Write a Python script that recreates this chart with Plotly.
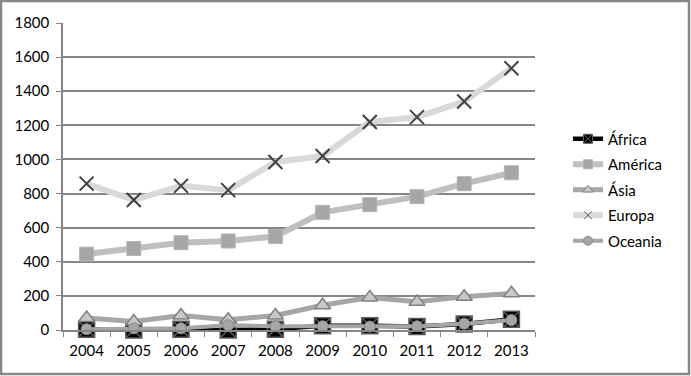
import plotly.graph_objects as go

years = ["2004", "2005", "2006", "2007", "2008", "2009", "2010", "2011", "2012", "2013"]
africa = [5, 0, 5, 0, 5, 25, 25, 20, 35, 63]
america = [445, 478, 512, 522, 548, 690, 735, 782, 858, 922]
asia = [70, 50, 85, 60, 85, 145, 190, 165, 195, 215]
europa = [858, 762, 845, 820, 985, 1020, 1220, 1248, 1340, 1535]
oceania = [5, 10, 10, 28, 22, 22, 20, 22, 37, 58]

W, H = 691, 376
L, R, T, B = 63, 535, 23, 330

styles = [
    ("África", africa,
     dict(color="#000000", width=4.5),
     dict(symbol="square-x", size=16, color="#000000", line=dict(color="#5a5a5a", width=1.5)),
     dict(symbol="square-x", size=9, color="#000000", line=dict(color="#5a5a5a", width=1))),
    ("América", america,
     dict(color="#bfbfbf", width=6),
     dict(symbol="square", size=14, color="#a6a6a6", line=dict(color="#b5b5b5", width=1)),
     dict(symbol="square", size=9, color="#a6a6a6", line=dict(color="#b5b5b5", width=1))),
    ("Ásia", asia,
     dict(color="#a6a6a6", width=5),
     dict(symbol="triangle-up", size=14, color="#c8c8c8", line=dict(color="#808080", width=1.5)),
     dict(symbol="triangle-up", size=9, color="#c8c8c8", line=dict(color="#808080", width=1))),
    ("Europa", europa,
     dict(color="#d9d9d9", width=6),
     dict(symbol="x-thin", size=14, color="#404040", line=dict(color="#404040", width=2)),
     dict(symbol="x-thin", size=8, color="#606060", line=dict(color="#606060", width=1))),
    ("Oceania", oceania,
     dict(color="#a6a6a6", width=4),
     dict(symbol="circle", size=11, color="#a6a6a6", line=dict(color="#8c8c8c", width=1)),
     dict(symbol="circle", size=9, color="#a6a6a6", line=dict(color="#8c8c8c", width=1))),
]

fig = go.Figure()
for name, vals, ln, mk, lmk in styles:
    fig.add_trace(go.Scatter(x=years, y=vals, name=name, mode="lines+markers",
                             line=ln, marker=mk, showlegend=False, cliponaxis=False))
for name, vals, ln, mk, lmk in styles:
    fig.add_trace(go.Scatter(x=[None], y=[None], name=name, mode="lines+markers",
                             line=ln, marker=lmk, showlegend=True, legendgroup=name))

pw, ph = R - L, B - T
def px(x):
    return (x - L) / pw
def py(y):
    return (B - y) / ph

fig.update_layout(
    width=W, height=H,
    margin=dict(l=L, r=W - R, t=T, b=H - B, pad=0),
    paper_bgcolor="white", plot_bgcolor="white",
    font=dict(family="Lato, Carlito, sans-serif", size=15, color="#000000"),
    showlegend=True,
    legend=dict(x=px(568), y=py(190), xanchor="left", yanchor="middle",
                font=dict(size=15), tracegroupgap=3,
                bgcolor="rgba(0,0,0,0)"),
    xaxis=dict(type="category", range=[-0.5, 9.5], showgrid=False,
               showline=True, linecolor="#868686", linewidth=1.5,
               ticks="outside", tickson="boundaries", ticklen=5, tickcolor="#868686",
               ticklabelstandoff=6, tickfont=dict(size=15), fixedrange=True),
    yaxis=dict(range=[0, 1800], dtick=200, showgrid=True, gridcolor="#868686", gridwidth=1.5,
               showline=True, linecolor="#868686", linewidth=1.5, zeroline=False,
               ticks="outside", ticklen=5, tickcolor="#868686", ticklabelstandoff=4,
               tickfont=dict(size=15), fixedrange=True),
    shapes=[dict(type="rect", xref="paper", yref="paper",
                 x0=px(1), x1=px(689), y0=py(374), y1=py(1),
                 line=dict(color="#868686", width=2.5), fillcolor="rgba(0,0,0,0)",
                 layer="below")],
)

fig.write_html("out.html", config={"displayModeBar": False},
               post_script="document.body.style.margin='0';document.body.style.padding='0';")
